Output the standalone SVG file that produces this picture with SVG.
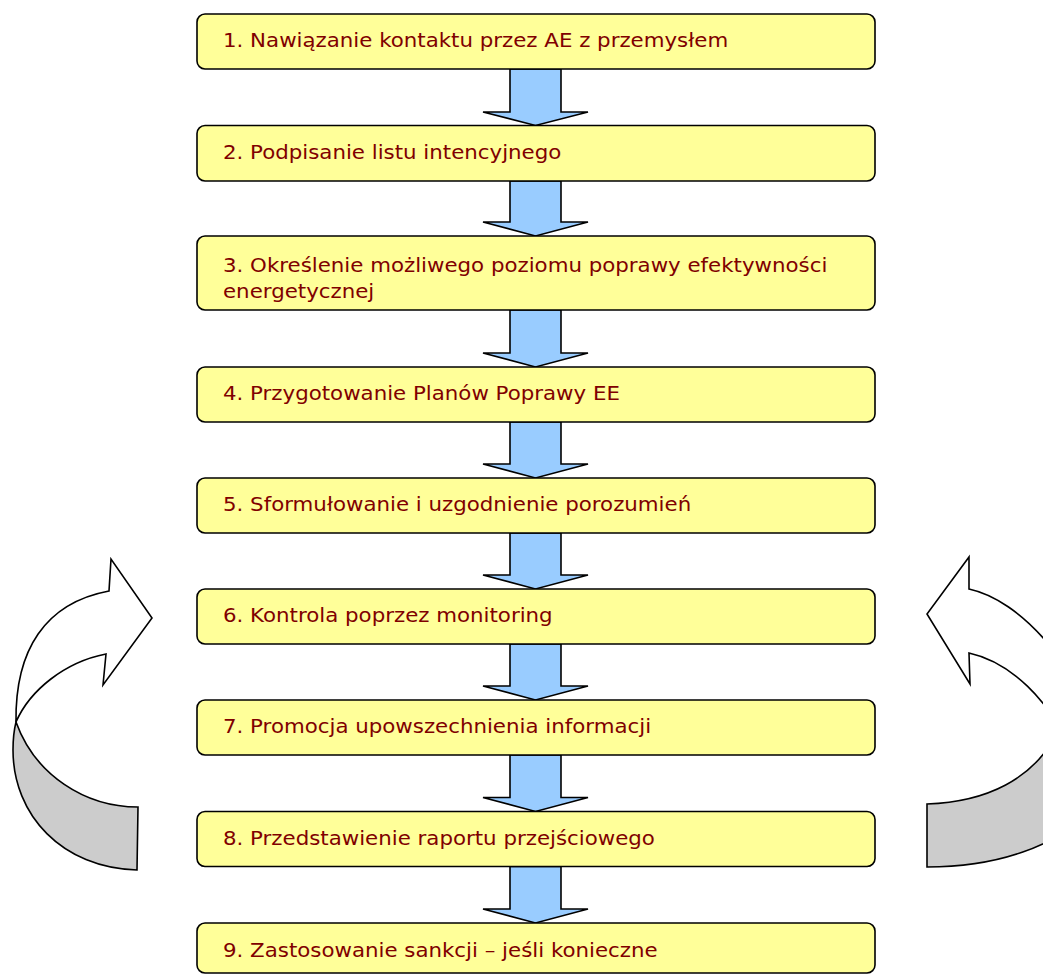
<svg xmlns="http://www.w3.org/2000/svg" width="1043" height="975" viewBox="0 0 1043 975">
<style>
.box{fill:#FFFF99;stroke:#000;stroke-width:1.6}
.lbl{font-family:"DejaVu Sans",Verdana,sans-serif;font-size:19px;fill:#800000}
.arr{fill:#99CCFF;stroke:#000;stroke-width:1.6;stroke-linejoin:miter}
.cw{fill:#FFFFFF;stroke:#000;stroke-width:1.6;stroke-linejoin:miter}
.cg{fill:#CCCCCC;stroke:#000;stroke-width:1.6}
</style>
<defs>
<path id="down" d="M-25.5,0 L25.5,0 L25.5,-14 L52.5,-14 L0,0 L-52.5,-14 L-25.5,-14 Z"/>
</defs>
<rect width="1043" height="975" fill="#fff"/>
<g id="connectors">
<path class="arr" d="M510,69 L561,69 L561,112 L588,112 L535.5,125.5 L483,112 L510,112 Z"/>
<path class="arr" d="M510,181 L561,181 L561,222 L588,222 L535.5,236 L483,222 L510,222 Z"/>
<path class="arr" d="M510,310 L561,310 L561,353 L588,353 L535.5,367 L483,353 L510,353 Z"/>
<path class="arr" d="M510,422 L561,422 L561,464 L588,464 L535.5,478 L483,464 L510,464 Z"/>
<path class="arr" d="M510,533 L561,533 L561,575 L588,575 L535.5,589 L483,575 L510,575 Z"/>
<path class="arr" d="M510,644 L561,644 L561,686 L588,686 L535.5,700 L483,686 L510,686 Z"/>
<path class="arr" d="M510,755 L561,755 L561,797.5 L588,797.5 L535.5,811.5 L483,797.5 L510,797.5 Z"/>
<path class="arr" d="M510,866.5 L561,866.5 L561,909 L588,909 L535.5,923 L483,909 L510,909 Z"/>
</g>
<g id="loop-left">
<path class="cg" d="M16,722 C35,775 85,807 138,807 L137,870 C62,868 13,815 13,750 C13,740 14,730 16,722 Z"/>
<path class="cw" d="M109,591 L111,559 L152,618 L103,685 L106,654 C65,662 30,690 16,722 C15,650 45,603 109,591 Z"/>
</g>
<g id="loop-right">
<path class="cg" d="M927,804 C985,802 1035,780 1058,730 L1100,730 L1100,800 C1060,850 990,867 927,867 Z"/>
<path class="cw" d="M969,589 L969,557 L927,614 L970,684 L969,653 C1010,662 1050,700 1070,750 L1098,745 C1080,665 1020,600 969,589 Z"/>
</g>
<g id="n1"><rect class="box" x="197" y="14" width="678" height="55" rx="8"/><text class="lbl" transform="translate(223,46.7) scale(1.123,1)">1. Nawiązanie kontaktu przez AE z przemysłem</text></g>
<g id="n2"><rect class="box" x="197" y="125.5" width="678" height="55.5" rx="8"/><text class="lbl" transform="translate(223,158.5) scale(1.123,1)">2. Podpisanie listu intencyjnego</text></g>
<g id="n3"><rect class="box" x="197" y="236" width="678" height="74" rx="8"/><text class="lbl" transform="translate(223,271.7) scale(1.123,1)">3. Określenie możliwego poziomu poprawy efektywności</text><text class="lbl" transform="translate(223,298) scale(1.123,1)">energetycznej</text></g>
<g id="n4"><rect class="box" x="197" y="367" width="678" height="55" rx="8"/><text class="lbl" transform="translate(223,400) scale(1.123,1)">4. Przygotowanie Planów Poprawy EE</text></g>
<g id="n5"><rect class="box" x="197" y="478" width="678" height="55" rx="8"/><text class="lbl" transform="translate(223,511) scale(1.123,1)">5. Sformułowanie i uzgodnienie porozumień</text></g>
<g id="n6"><rect class="box" x="197" y="589" width="678" height="55" rx="8"/><text class="lbl" transform="translate(223,622) scale(1.123,1)">6. Kontrola poprzez monitoring</text></g>
<g id="n7"><rect class="box" x="197" y="700" width="678" height="55" rx="8"/><text class="lbl" transform="translate(223,733) scale(1.123,1)">7. Promocja upowszechnienia informacji</text></g>
<g id="n8"><rect class="box" x="197" y="811.5" width="678" height="55" rx="8"/><text class="lbl" transform="translate(223,845) scale(1.123,1)">8. Przedstawienie raportu przejściowego</text></g>
<g id="n9"><rect class="box" x="197" y="923" width="678" height="50" rx="8"/><text class="lbl" transform="translate(223,956.5) scale(1.123,1)">9. Zastosowanie sankcji – jeśli konieczne</text></g>
</svg>
